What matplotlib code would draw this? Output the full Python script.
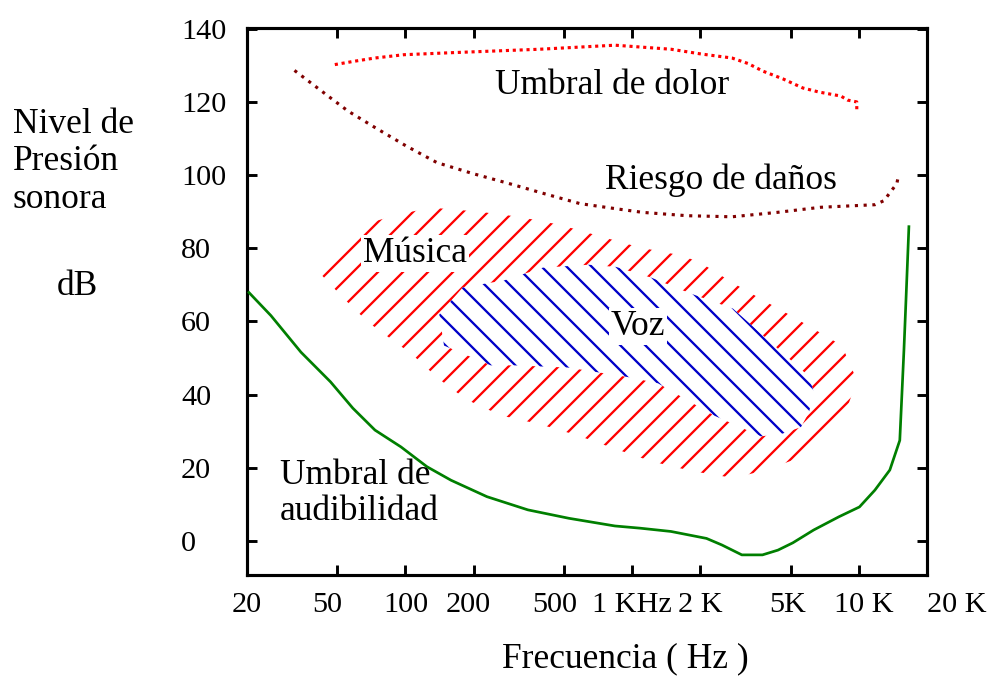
import matplotlib
matplotlib.use('Agg')
import matplotlib.pyplot as plt
from matplotlib.patches import Polygon
from matplotlib.ticker import NullLocator
from matplotlib.transforms import ScaledTranslation

plt.rcParams['font.family'] = ['Liberation Serif', 'DejaVu Serif']
plt.rcParams['hatch.linewidth'] = 1.1

DPI = 150

# umbral de dolor (Hz, dB)
dolor_x = [48.8, 59.3, 73.4, 98.5, 167, 392, 840, 1483, 2014, 2757, 3245,
           3780, 4625, 5670, 6670, 8340, 8920, 9800, 9800]
dolor_y = [130.2, 131.1, 132.0, 132.9, 133.5, 134.4, 135.5, 134.4, 133.1,
           132.0, 130.5, 128.4, 126.3, 123.8, 122.7, 121.6, 120.5, 120.0, 117.2]

# riesgo de danos
riesgo_x = [32.4, 46.5, 55.8, 73.4, 100.5, 137.8, 198.6, 286, 411, 589, 849,
            1117, 1746, 2757, 4355, 6780, 11780, 12910, 14730, 14950]
riesgo_y = [128.6, 121.2, 117.5, 113.0, 108.0, 103.4, 100.4, 97.7, 94.9, 92.2,
            90.8, 89.8, 88.9, 88.6, 89.8, 91.2, 91.9, 93.0, 97.7, 99.8]

# umbral de audibilidad
audib_x = [20.4, 25.5, 34.6, 46.7, 58.6, 73.4, 95.6, 124.4, 158.9, 229, 347,
           526, 840, 1084, 1484, 2129, 2491, 3049, 3760, 4400, 5120, 6325,
           8165, 10070, 11780, 13710, 15170, 15820, 16150, 16640]
audib_y = [67.9, 61.6, 51.6, 43.5, 36.3, 30.3, 25.7, 20.3, 16.6, 12.1, 8.5,
           6.2, 4.1, 3.5, 2.6, 0.7, -1.1, -3.8, -3.8, -2.5, -0.5, 3.0,
           6.6, 9.3, 13.9, 19.4, 27.5, 52.1, 65.7, 85.9]

# zona de musica (contorno)
musica_x = [41.6, 67, 95.6, 130, 211, 317, 481, 729, 1084, 1659, 2012, 2757,
            3664, 5120, 8430, 9815, 8590, 5846, 3892, 2812, 1836, 1211, 832,
            571, 392, 264, 185, 139, 107, 91.8, 68.4, 53]
musica_y = [73.4, 86.7, 89.4, 91.1, 90.0, 88.6, 86.4, 83.2, 80.2, 78.0, 76.0,
            70.7, 66.3, 61.3, 53.4, 43.9, 33.8, 23.4, 19.4, 17.2, 19.1, 21.8,
            25.3, 28.9, 31.9, 34.3, 38.7, 44.5, 51.0, 54.0, 59.8, 66.5]

# zona de voz (contorno)
voz_x = [141, 179, 272, 404, 645, 849, 1211, 1818, 2786, 6026, 6338, 6026,
         5556, 4534, 3700, 2296, 1300, 958, 521, 301, 238, 148]
voz_y = [61.9, 69.3, 71.2, 74.7, 75.5, 74.9, 72.0, 67.6, 63.5, 45.0, 40.6,
         35.1, 31.1, 29.2, 28.6, 34.3, 43.1, 44.8, 47.4, 48.0, 48.0, 53.4]

xticks = [20, 50, 100, 200, 500, 1000, 2000, 5000, 10000, 20000]
xtick_labels = ['20', '50', '100', '200', '500', '1 KHz', '2 K', '5K', '10 K', '20 K']
xtick_shift = [0, -10, 0, -5, -9, 0, 0, -3, 5, 0]  # px, as in the original
yticks = [0, 20, 40, 60, 80, 100, 120, 140]

fig = plt.figure(figsize=(987 / DPI, 677 / DPI), dpi=DPI)
ax = fig.add_axes([247 / 987, 1 - 575 / 677, 680 / 987, 547 / 677])
ax.set_xscale('log')
ax.set_xlim(20, 20000)
ax.set_ylim(-9.3, 140.2)

ax.add_patch(Polygon(list(zip(musica_x, musica_y)), closed=True, facecolor='none',
                     edgecolor='#ff0000', hatch='//', linewidth=0, zorder=1))
ax.add_patch(Polygon(list(zip(voz_x, voz_y)), closed=True, facecolor='white',
                     edgecolor='#0000c8', hatch='\\\\', linewidth=0, zorder=1.5))

ax.plot(dolor_x, dolor_y, color='#ff0000', lw=1.5, linestyle=(0, (1, 1.2)), zorder=3)
ax.plot(riesgo_x, riesgo_y, color='#800000', lw=1.5, linestyle=(0, (1, 1.8)), zorder=3)
ax.plot(audib_x, audib_y, color='#007f00', lw=1.3, zorder=3)

fs = 17
ax.text(818, 122.2, 'Umbral de dolor', ha='center', va='baseline', fontsize=fs)
ax.text(2466, 96.3, 'Riesgo de daños', ha='center', va='baseline', fontsize=fs)
ax.text(110, 76.2, 'Música', ha='center', va='baseline', fontsize=fs, zorder=4,
        bbox=dict(facecolor='white', edgecolor='none', pad=1))
ax.text(1062, 56.2, 'Voz', ha='center', va='baseline', fontsize=fs, zorder=4,
        bbox=dict(facecolor='white', edgecolor='none', pad=1))
ax.text(28.0, 15.7, 'Umbral de', ha='left', va='baseline', fontsize=fs)
ax.text(28.0, 5.7, 'audibilidad', ha='left', va='baseline', fontsize=fs)

fig.text(13 / 987, 1 - 133 / 677, 'Nivel de', ha='left', va='baseline', fontsize=fs)
fig.text(13 / 987, 1 - 170 / 677, 'Presión', ha='left', va='baseline', fontsize=fs)
fig.text(13 / 987, 1 - 208 / 677, 'sonora', ha='left', va='baseline', fontsize=fs)
fig.text(57 / 987, 1 - 295 / 677, 'dB', ha='left', va='baseline', fontsize=fs)
fig.text(625 / 987, 1 - 667 / 677, 'Frecuencia ( Hz )', ha='center', va='baseline', fontsize=fs)

ax.set_xticks(xticks, labels=xtick_labels)
ax.xaxis.set_minor_locator(NullLocator())
ax.set_yticks(yticks)
ax.tick_params(which='major', direction='in', length=4.8, width=1.4,
               top=True, right=True, labelsize=14.5)
ax.tick_params(axis='x', pad=8.3)
ax.tick_params(axis='y', pad=31.7)
for s in ax.spines.values():
    s.set_linewidth(1.5)

for lab in ax.get_yticklabels():
    lab.set_ha('left')
xlabs = ax.get_xticklabels()
xlabs[-1].set_ha('left')
for lab, dx in zip(xlabs, xtick_shift):
    if dx:
        lab.set_transform(lab.get_transform() + ScaledTranslation(dx / DPI, 0, fig.dpi_scale_trans))

fig.savefig('out.png', dpi=DPI)
